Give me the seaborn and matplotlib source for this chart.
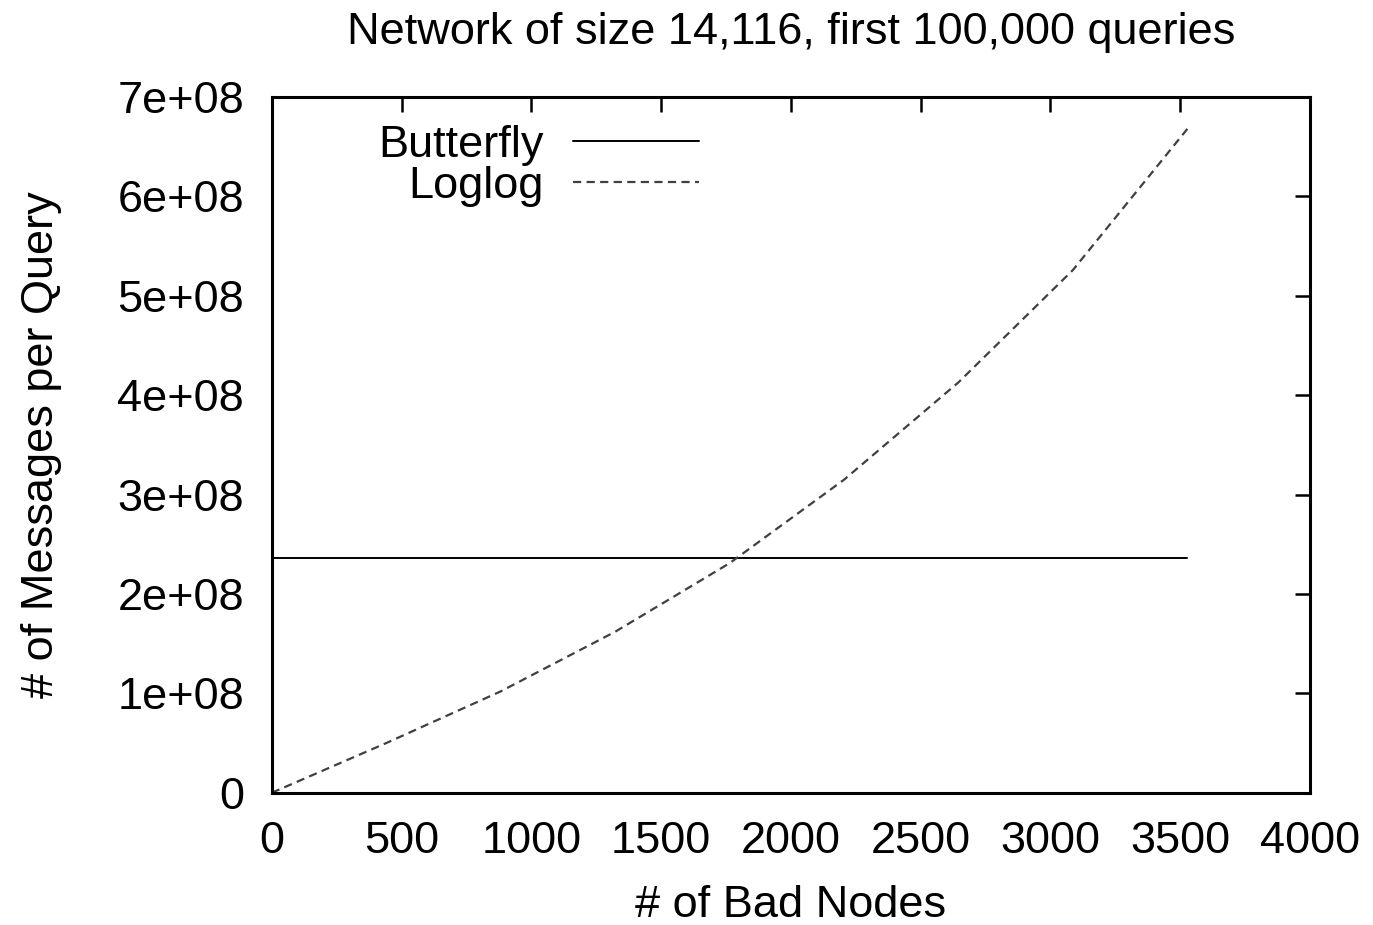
import pandas as pd
import seaborn as sns
import matplotlib.pyplot as plt


# DATA
bad_nodes = [0, 441, 882, 1323, 1764, 2205, 2646, 3087, 3528]
butterfly = [2.363e8] * 9
loglog = [0, 0.50e8, 1.02e8, 1.62e8, 2.31e8, 3.15e8, 4.13e8, 5.26e8, 6.68e8]

x_ticks = [0, 500, 1000, 1500, 2000, 2500, 3000, 3500, 4000]
y_ticks = [0, 1e8, 2e8, 3e8, 4e8, 5e8, 6e8, 7e8]
y_tick_labels = ['0', '1e+08', '2e+08', '3e+08', '4e+08', '5e+08', '6e+08', '7e+08']

df = pd.DataFrame({'bad': bad_nodes, 'Butterfly': butterfly, 'Loglog': loglog})


sns.set_style('white')
plt.rcParams['font.family'] = ['Liberation Sans', 'DejaVu Sans']
plt.rcParams['text.color'] = 'black'
plt.rcParams['axes.labelcolor'] = 'black'
FS = 32.5

fig = plt.figure(figsize=(13.73, 9.25), dpi=100)
ax = fig.add_axes([0.198, 0.143, 0.756, 0.752])

sns.lineplot(data=df, x='bad', y='Butterfly', ax=ax, color='black', linewidth=1.4, label='Butterfly')
sns.lineplot(data=df, x='bad', y='Loglog', ax=ax, color='#404040', linewidth=1.6,
             linestyle=(0, (3.7, 2.4)), label='Loglog')

ax.set_xlim(0, 4000)
ax.set_ylim(0, 7e8)
ax.set_xticks(x_ticks)
ax.set_yticks(y_ticks)
ax.set_yticklabels(y_tick_labels)
ax.tick_params(direction='in', length=11, width=1.8, top=True, right=True, labelsize=FS,
               pad=20, colors='black')
for s in ax.spines.values():
    s.set_linewidth(2.2)
    s.set_color('black')

ax.set_xlabel('# of Bad Nodes', fontsize=FS, labelpad=17)
ax.set_ylabel('# of Messages per Query', fontsize=FS, labelpad=40)
ax.set_title('Network of size 14,116, first 100,000 queries', fontsize=FS, pad=38)

leg = ax.legend(loc='upper right', bbox_to_anchor=(0.451, 1.018), frameon=False, markerfirst=False,
                handlelength=2.8, fontsize=FS, labelspacing=0.0, handletextpad=0.65)

fig.savefig('out.png', dpi=100)
